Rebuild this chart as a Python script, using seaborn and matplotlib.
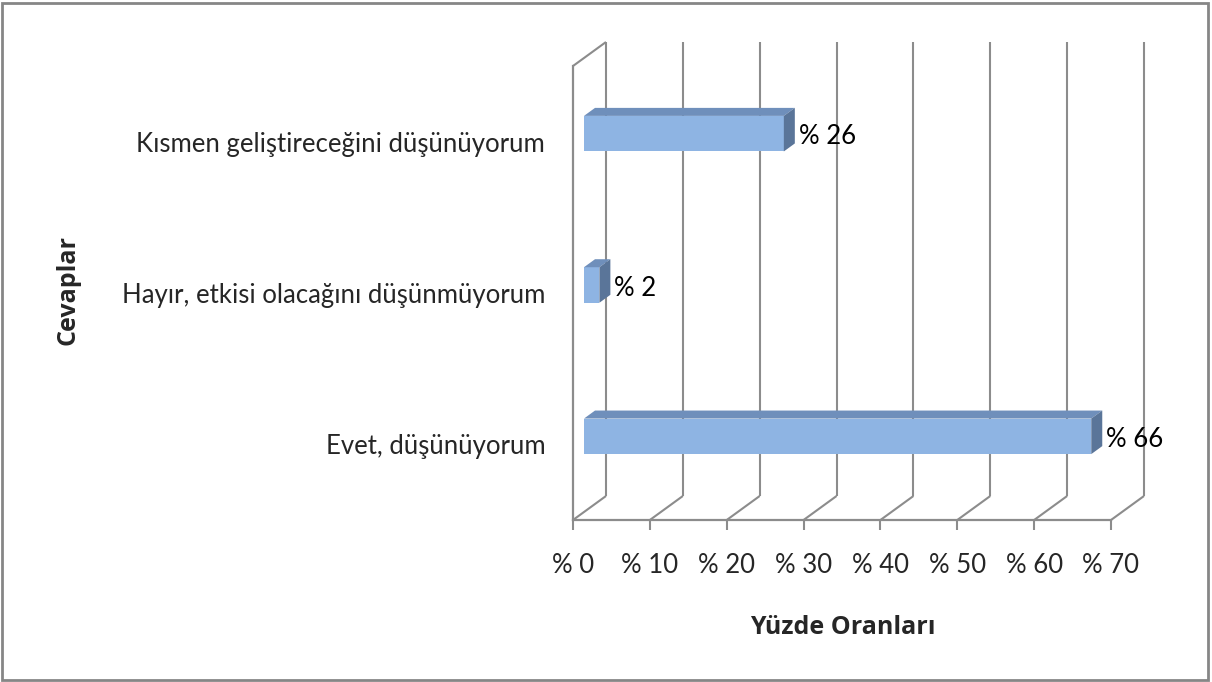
import numpy as np
import pandas as pd
import matplotlib
matplotlib.use('Agg')
import matplotlib.pyplot as plt
import seaborn as sns
from matplotlib.patches import Polygon, Rectangle
from matplotlib.collections import LineCollection
from matplotlib.transforms import offset_copy, IdentityTransform

# Data
categories = ['Kısmen geliştireceğini düşünüyorum',
              'Hayır, etkisi olacağını düşünmüyorum',
              'Evet, düşünüyorum']
percentages = [26, 2, 66]
x_ticks = [0, 10, 20, 30, 40, 50, 60, 70]
x_tick_labels = ['% ' + str(t) for t in x_ticks]
value_labels = ['% ' + str(v) for v in percentages]

sns.set_style('white')
plt.rcParams['font.family'] = ['Lato', 'DejaVu Sans']

W, H, DPI = 1212, 682, 100
DEPTH = np.array([33.0, 24.0])  # shift (px) from front plane to back wall
GRID = '#8c8c8c'
FRONT, TOP, SIDE = '#8eb4e3', '#6f8fbb', '#5a7599'
FS = 18.5

fig = plt.figure(figsize=(W / DPI, H / DPI), dpi=DPI)
ax = fig.add_axes([573 / W, 1 - 520 / H, 538 / W, 454 / H])

df = pd.DataFrame({'Cevap': categories, 'Yuzde': percentages})
sns.barplot(data=df, x='Yuzde', y='Cevap', orient='h', color=FRONT,
            width=0.235, saturation=1, ax=ax, zorder=3)
ax.set_xlim(0, 70)
ax.set_ylim(2.5, -0.5)


def px(x, y, d=0.0):
    # data point on the plane at depth d (0 = front, 1 = back wall), in pixels
    return ax.transData.transform((x, y)) + d * DEPTH


# back wall gridlines
back = offset_copy(ax.transData, fig=fig, x=DEPTH[0], y=DEPTH[1], units='dots')
ax.vlines(x_ticks, -0.5, 2.5, transform=back, colors=GRID, lw=1.5,
          zorder=1, clip_on=False)

# floor diagonals + top-left diagonal
segs = [[px(t, 2.5, 0), px(t, 2.5, 1)] for t in x_ticks]
segs.append([px(0, -0.5, 0), px(0, -0.5, 1)])
ax.add_artist(LineCollection(segs, colors=GRID, lw=1.5, zorder=1,
                             transform=IdentityTransform(), clip_on=False))

# bars: front face at 1/3 depth, top and side faces up to 2/3 depth
front = offset_copy(ax.transData, fig=fig, x=DEPTH[0] / 3, y=DEPTH[1] / 3, units='dots')
for p in ax.patches:
    x0, y0 = p.get_x(), p.get_y()
    x1, y1 = x0 + p.get_width(), y0 + p.get_height()
    p.set_transform(front)
    p.set_edgecolor('none')
    top = [px(x0, y0, 1 / 3), px(x1, y0, 1 / 3), px(x1, y0, 2 / 3), px(x0, y0, 2 / 3)]
    side = [px(x1, y0, 1 / 3), px(x1, y1, 1 / 3), px(x1, y1, 2 / 3), px(x1, y0, 2 / 3)]
    for verts, c in [(top, TOP), (side, SIDE)]:
        ax.add_artist(Polygon(verts, closed=True, facecolor=c, edgecolor='none',
                              transform=IdentityTransform(), clip_on=False, zorder=3))

# value labels
for i, (v, lab) in enumerate(zip(percentages, value_labels)):
    ax.annotate(lab, xy=(v, i), xytext=(26, 5), textcoords='offset pixels',
                ha='left', va='center', fontsize=FS, color='black')

# front axes
for s in ['top', 'right']:
    ax.spines[s].set_visible(False)
for s in ['left', 'bottom']:
    ax.spines[s].set_color(GRID)
    ax.spines[s].set_linewidth(1.6)
    ax.spines[s].set_zorder(2)
ax.set_xticks(x_ticks)
ax.set_xticklabels(x_tick_labels, fontsize=FS)
ax.tick_params(axis='x', bottom=True, direction='out', length=7, width=1.5,
               color=GRID, pad=17)
ax.tick_params(axis='y', left=False, length=0, pad=20, labelsize=FS)
ax.set_xlabel('')
ax.set_ylabel('')
ax.grid(False)

fig.text(843 / W, 1 - 628 / H, 'Yüzde Oranları', ha='center', va='center',
         fontsize=18, fontweight='bold', family=['Open Sans', 'DejaVu Sans'])
fig.text(68 / W, 1 - 290 / H, 'Cevaplar', ha='center', va='center',
         rotation=90, fontsize=18, fontweight='bold', family=['Open Sans', 'DejaVu Sans'])

# outer border
fig.patches.append(Rectangle((0.002, 0.003), 0.995, 0.993, transform=fig.transFigure,
                             fill=False, edgecolor='#868686', lw=2))

fig.savefig('out.png', dpi=DPI)
